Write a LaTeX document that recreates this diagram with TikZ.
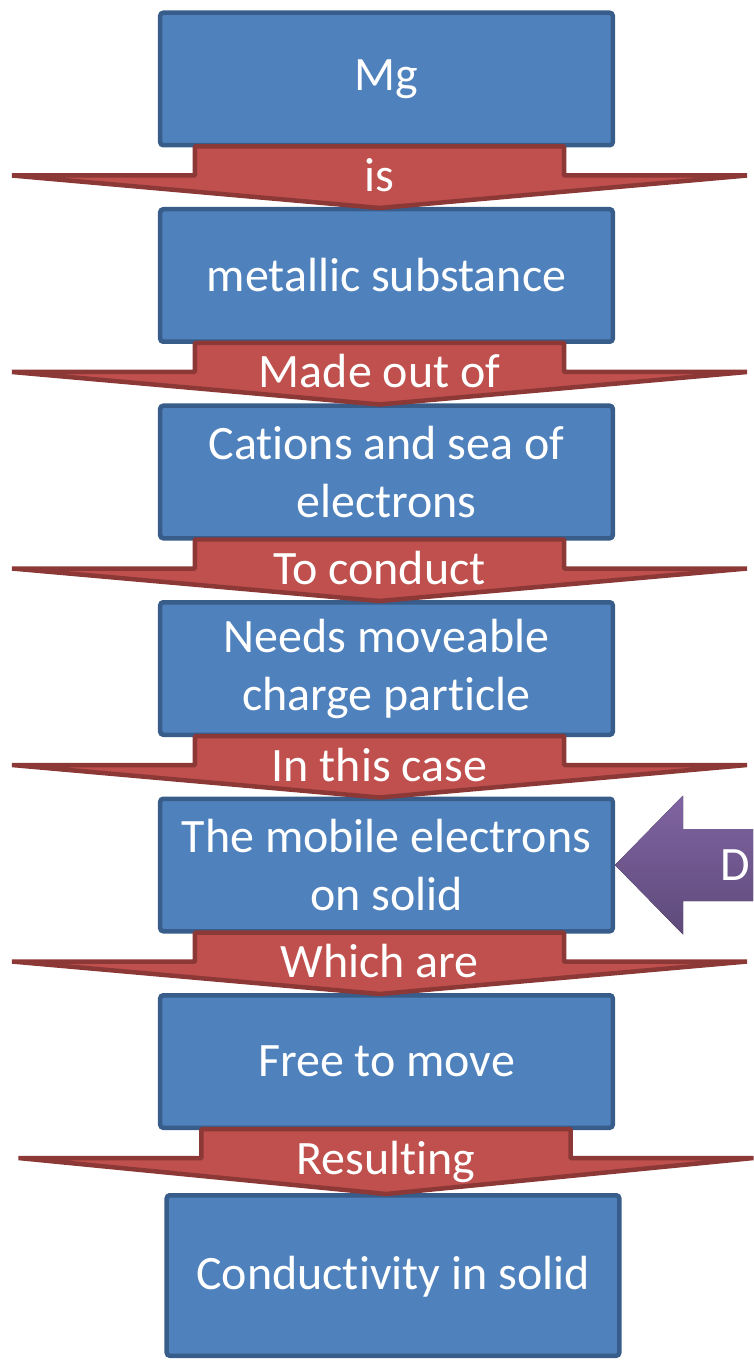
\documentclass[tikz,border=0pt]{standalone}
\usepackage{fontspec}
\setmainfont{Carlito}[Ligatures=NoCommon]
\usetikzlibrary{calc}

\definecolor{boxblue}{RGB}{79,129,189}
\definecolor{boxline}{RGB}{56,93,138}
\definecolor{linkred}{RGB}{192,80,77}
\definecolor{linkline}{RGB}{140,56,54}
\definecolor{hintlight}{RGB}{128,100,162}
\definecolor{hintdark}{RGB}{94,74,122}

\tikzset{
  stagebox/.style={draw=boxline, fill=boxblue, line width=0.09cm, rounded corners=0.06cm,
    minimum width=9.05cm, minimum height=2.65cm, align=center, text=white,
    font=\fontsize{27.3pt}{33pt}\selectfont},
  linkshape/.style={draw=linkline, fill=linkred, line width=0.09cm, line join=bevel},
  linklabel/.style={anchor=base, text=white, inner sep=0pt,
    font=\fontsize{27.3pt}{33pt}\selectfont}
}

% red connector from #1 down to #2, labelled #3
\newcommand{\linkarrow}[3]{%
  \draw[linkshape] let \p1=(#1.south), \p2=(#2.north) in
    (\x2-3.83cm, \y1+0.02cm) -- (\x2+3.55cm, \y1+0.02cm) -- (\x2+3.55cm, \y1-0.56cm)
    -- (\x2+7.21cm, \y1-0.56cm) -- (\x2-0.14cm, \y2-0.02cm) -- (\x2-7.49cm, \y1-0.56cm)
    -- (\x2-3.83cm, \y1-0.56cm) -- cycle;
  \path let \p1=(#1.south), \p2=(#2.north) in
    node[linklabel] at (\x2-0.14cm, \y1-0.88cm) {#3};
}

\begin{document}
\begin{tikzpicture}[node distance=3.93cm]
  \useasboundingbox (-7.73,1.58) rectangle (7.33,-25.68);

  \node[stagebox] (mg) {Mg};
  \node[stagebox] (metal) [below of=mg] {metallic substance};
  \node[stagebox] (cations) [below of=metal] {Cations and sea of\\electrons};
  \node[stagebox] (needs) [below of=cations] {Needs moveable\\charge particle};
  \node[stagebox] (mobile) [below of=needs] {The mobile electrons\\on solid};
  \node[stagebox] (free) [below of=mobile] {Free to move};
  \node[stagebox, minimum height=3.21cm, text depth=0.1cm] (cond) [below of=free, node distance=4.28cm, xshift=0.13cm] {Conductivity in solid};

  \linkarrow{mg}{metal}{is}
  \linkarrow{metal}{cations}{Made out of}
  \linkarrow{cations}{needs}{To conduct}
  \linkarrow{needs}{mobile}{In this case}
  \linkarrow{mobile}{free}{Which are}
  \linkarrow{free}{cond}{Resulting}

  % purple pointer into the mobile electrons box
  \begin{scope}
    \clip (-7.73,1.58) rectangle (7.33,-25.68);
    \fill[top color=hintlight, bottom color=hintdark] (mobile.east) -- ++(1.36,1.39) -- ++(0,-0.67)
      -- ++(2.5,0) -- ++(0,-1.44) -- ++(-2.5,0) -- ++(0,-0.67) -- cycle;
    \node[anchor=west, text=white, inner sep=0pt, font=\fontsize{27.3pt}{33pt}\selectfont]
      (hint) at ($(mobile.east)+(2.1,0)$) {D};
  \end{scope}
\end{tikzpicture}
\end{document}
